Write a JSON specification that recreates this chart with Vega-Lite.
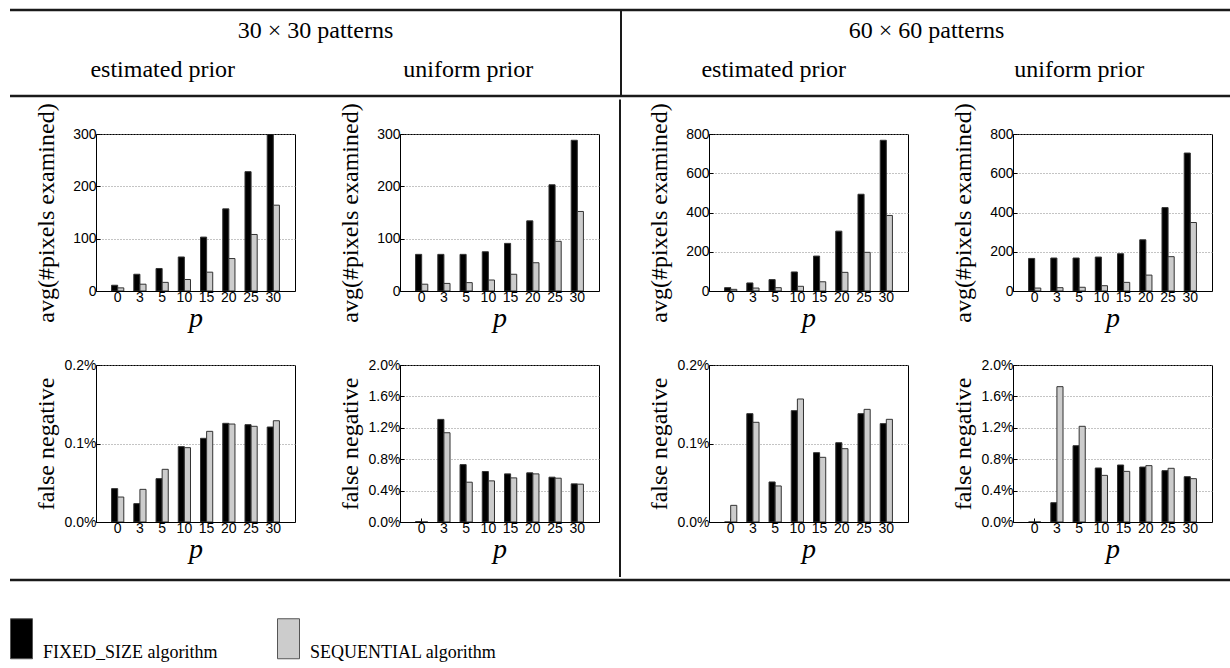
{
  "$schema": "https://vega.github.io/schema/vega-lite/v6.json",
  "padding": {"left": 8, "top": 8, "right": 0, "bottom": 0},
  "background": "white",
  "datasets": {
    "bars": [
      {"size":"30x30","prior":"estimated","metric":"pixels","p":0,"algo":"FIXED_SIZE algorithm","value":11},
      {"size":"30x30","prior":"estimated","metric":"pixels","p":3,"algo":"FIXED_SIZE algorithm","value":32},
      {"size":"30x30","prior":"estimated","metric":"pixels","p":5,"algo":"FIXED_SIZE algorithm","value":43},
      {"size":"30x30","prior":"estimated","metric":"pixels","p":10,"algo":"FIXED_SIZE algorithm","value":65},
      {"size":"30x30","prior":"estimated","metric":"pixels","p":15,"algo":"FIXED_SIZE algorithm","value":103},
      {"size":"30x30","prior":"estimated","metric":"pixels","p":20,"algo":"FIXED_SIZE algorithm","value":157},
      {"size":"30x30","prior":"estimated","metric":"pixels","p":25,"algo":"FIXED_SIZE algorithm","value":228},
      {"size":"30x30","prior":"estimated","metric":"pixels","p":30,"algo":"FIXED_SIZE algorithm","value":300},
      {"size":"30x30","prior":"estimated","metric":"pixels","p":0,"algo":"SEQUENTIAL algorithm","value":6},
      {"size":"30x30","prior":"estimated","metric":"pixels","p":3,"algo":"SEQUENTIAL algorithm","value":13},
      {"size":"30x30","prior":"estimated","metric":"pixels","p":5,"algo":"SEQUENTIAL algorithm","value":16.5},
      {"size":"30x30","prior":"estimated","metric":"pixels","p":10,"algo":"SEQUENTIAL algorithm","value":22},
      {"size":"30x30","prior":"estimated","metric":"pixels","p":15,"algo":"SEQUENTIAL algorithm","value":36},
      {"size":"30x30","prior":"estimated","metric":"pixels","p":20,"algo":"SEQUENTIAL algorithm","value":62},
      {"size":"30x30","prior":"estimated","metric":"pixels","p":25,"algo":"SEQUENTIAL algorithm","value":108},
      {"size":"30x30","prior":"estimated","metric":"pixels","p":30,"algo":"SEQUENTIAL algorithm","value":164},

      {"size":"30x30","prior":"uniform","metric":"pixels","p":0,"algo":"FIXED_SIZE algorithm","value":70},
      {"size":"30x30","prior":"uniform","metric":"pixels","p":3,"algo":"FIXED_SIZE algorithm","value":70},
      {"size":"30x30","prior":"uniform","metric":"pixels","p":5,"algo":"FIXED_SIZE algorithm","value":70},
      {"size":"30x30","prior":"uniform","metric":"pixels","p":10,"algo":"FIXED_SIZE algorithm","value":75},
      {"size":"30x30","prior":"uniform","metric":"pixels","p":15,"algo":"FIXED_SIZE algorithm","value":91},
      {"size":"30x30","prior":"uniform","metric":"pixels","p":20,"algo":"FIXED_SIZE algorithm","value":134},
      {"size":"30x30","prior":"uniform","metric":"pixels","p":25,"algo":"FIXED_SIZE algorithm","value":203},
      {"size":"30x30","prior":"uniform","metric":"pixels","p":30,"algo":"FIXED_SIZE algorithm","value":288},
      {"size":"30x30","prior":"uniform","metric":"pixels","p":0,"algo":"SEQUENTIAL algorithm","value":13},
      {"size":"30x30","prior":"uniform","metric":"pixels","p":3,"algo":"SEQUENTIAL algorithm","value":14.5},
      {"size":"30x30","prior":"uniform","metric":"pixels","p":5,"algo":"SEQUENTIAL algorithm","value":16},
      {"size":"30x30","prior":"uniform","metric":"pixels","p":10,"algo":"SEQUENTIAL algorithm","value":21},
      {"size":"30x30","prior":"uniform","metric":"pixels","p":15,"algo":"SEQUENTIAL algorithm","value":32},
      {"size":"30x30","prior":"uniform","metric":"pixels","p":20,"algo":"SEQUENTIAL algorithm","value":54},
      {"size":"30x30","prior":"uniform","metric":"pixels","p":25,"algo":"SEQUENTIAL algorithm","value":95},
      {"size":"30x30","prior":"uniform","metric":"pixels","p":30,"algo":"SEQUENTIAL algorithm","value":152},

      {"size":"60x60","prior":"estimated","metric":"pixels","p":0,"algo":"FIXED_SIZE algorithm","value":17},
      {"size":"60x60","prior":"estimated","metric":"pixels","p":3,"algo":"FIXED_SIZE algorithm","value":41},
      {"size":"60x60","prior":"estimated","metric":"pixels","p":5,"algo":"FIXED_SIZE algorithm","value":58},
      {"size":"60x60","prior":"estimated","metric":"pixels","p":10,"algo":"FIXED_SIZE algorithm","value":97},
      {"size":"60x60","prior":"estimated","metric":"pixels","p":15,"algo":"FIXED_SIZE algorithm","value":178},
      {"size":"60x60","prior":"estimated","metric":"pixels","p":20,"algo":"FIXED_SIZE algorithm","value":305},
      {"size":"60x60","prior":"estimated","metric":"pixels","p":25,"algo":"FIXED_SIZE algorithm","value":493},
      {"size":"60x60","prior":"estimated","metric":"pixels","p":30,"algo":"FIXED_SIZE algorithm","value":768},
      {"size":"60x60","prior":"estimated","metric":"pixels","p":0,"algo":"SEQUENTIAL algorithm","value":8.5},
      {"size":"60x60","prior":"estimated","metric":"pixels","p":3,"algo":"SEQUENTIAL algorithm","value":15},
      {"size":"60x60","prior":"estimated","metric":"pixels","p":5,"algo":"SEQUENTIAL algorithm","value":17},
      {"size":"60x60","prior":"estimated","metric":"pixels","p":10,"algo":"SEQUENTIAL algorithm","value":24},
      {"size":"60x60","prior":"estimated","metric":"pixels","p":15,"algo":"SEQUENTIAL algorithm","value":47},
      {"size":"60x60","prior":"estimated","metric":"pixels","p":20,"algo":"SEQUENTIAL algorithm","value":95},
      {"size":"60x60","prior":"estimated","metric":"pixels","p":25,"algo":"SEQUENTIAL algorithm","value":197},
      {"size":"60x60","prior":"estimated","metric":"pixels","p":30,"algo":"SEQUENTIAL algorithm","value":385},

      {"size":"60x60","prior":"uniform","metric":"pixels","p":0,"algo":"FIXED_SIZE algorithm","value":166},
      {"size":"60x60","prior":"uniform","metric":"pixels","p":3,"algo":"FIXED_SIZE algorithm","value":168},
      {"size":"60x60","prior":"uniform","metric":"pixels","p":5,"algo":"FIXED_SIZE algorithm","value":168},
      {"size":"60x60","prior":"uniform","metric":"pixels","p":10,"algo":"FIXED_SIZE algorithm","value":173},
      {"size":"60x60","prior":"uniform","metric":"pixels","p":15,"algo":"FIXED_SIZE algorithm","value":190},
      {"size":"60x60","prior":"uniform","metric":"pixels","p":20,"algo":"FIXED_SIZE algorithm","value":261},
      {"size":"60x60","prior":"uniform","metric":"pixels","p":25,"algo":"FIXED_SIZE algorithm","value":425},
      {"size":"60x60","prior":"uniform","metric":"pixels","p":30,"algo":"FIXED_SIZE algorithm","value":703},
      {"size":"60x60","prior":"uniform","metric":"pixels","p":0,"algo":"SEQUENTIAL algorithm","value":15},
      {"size":"60x60","prior":"uniform","metric":"pixels","p":3,"algo":"SEQUENTIAL algorithm","value":17},
      {"size":"60x60","prior":"uniform","metric":"pixels","p":5,"algo":"SEQUENTIAL algorithm","value":19},
      {"size":"60x60","prior":"uniform","metric":"pixels","p":10,"algo":"SEQUENTIAL algorithm","value":27},
      {"size":"60x60","prior":"uniform","metric":"pixels","p":15,"algo":"SEQUENTIAL algorithm","value":44},
      {"size":"60x60","prior":"uniform","metric":"pixels","p":20,"algo":"SEQUENTIAL algorithm","value":81},
      {"size":"60x60","prior":"uniform","metric":"pixels","p":25,"algo":"SEQUENTIAL algorithm","value":175},
      {"size":"60x60","prior":"uniform","metric":"pixels","p":30,"algo":"SEQUENTIAL algorithm","value":349},

      {"size":"30x30","prior":"estimated","metric":"fn","p":0,"algo":"FIXED_SIZE algorithm","value":0.000425},
      {"size":"30x30","prior":"estimated","metric":"fn","p":3,"algo":"FIXED_SIZE algorithm","value":0.000234},
      {"size":"30x30","prior":"estimated","metric":"fn","p":5,"algo":"FIXED_SIZE algorithm","value":0.000552},
      {"size":"30x30","prior":"estimated","metric":"fn","p":10,"algo":"FIXED_SIZE algorithm","value":0.00096},
      {"size":"30x30","prior":"estimated","metric":"fn","p":15,"algo":"FIXED_SIZE algorithm","value":0.001066},
      {"size":"30x30","prior":"estimated","metric":"fn","p":20,"algo":"FIXED_SIZE algorithm","value":0.001257},
      {"size":"30x30","prior":"estimated","metric":"fn","p":25,"algo":"FIXED_SIZE algorithm","value":0.00124},
      {"size":"30x30","prior":"estimated","metric":"fn","p":30,"algo":"FIXED_SIZE algorithm","value":0.00121},
      {"size":"30x30","prior":"estimated","metric":"fn","p":0,"algo":"SEQUENTIAL algorithm","value":0.000318},
      {"size":"30x30","prior":"estimated","metric":"fn","p":3,"algo":"SEQUENTIAL algorithm","value":0.000416},
      {"size":"30x30","prior":"estimated","metric":"fn","p":5,"algo":"SEQUENTIAL algorithm","value":0.000671},
      {"size":"30x30","prior":"estimated","metric":"fn","p":10,"algo":"SEQUENTIAL algorithm","value":0.000947},
      {"size":"30x30","prior":"estimated","metric":"fn","p":15,"algo":"SEQUENTIAL algorithm","value":0.001155},
      {"size":"30x30","prior":"estimated","metric":"fn","p":20,"algo":"SEQUENTIAL algorithm","value":0.001248},
      {"size":"30x30","prior":"estimated","metric":"fn","p":25,"algo":"SEQUENTIAL algorithm","value":0.001219},
      {"size":"30x30","prior":"estimated","metric":"fn","p":30,"algo":"SEQUENTIAL algorithm","value":0.00129},

      {"size":"30x30","prior":"uniform","metric":"fn","p":0,"algo":"FIXED_SIZE algorithm","value":0.00005},
      {"size":"30x30","prior":"uniform","metric":"fn","p":3,"algo":"FIXED_SIZE algorithm","value":0.01307},
      {"size":"30x30","prior":"uniform","metric":"fn","p":5,"algo":"FIXED_SIZE algorithm","value":0.00731},
      {"size":"30x30","prior":"uniform","metric":"fn","p":10,"algo":"FIXED_SIZE algorithm","value":0.00643},
      {"size":"30x30","prior":"uniform","metric":"fn","p":15,"algo":"FIXED_SIZE algorithm","value":0.00613},
      {"size":"30x30","prior":"uniform","metric":"fn","p":20,"algo":"FIXED_SIZE algorithm","value":0.00626},
      {"size":"30x30","prior":"uniform","metric":"fn","p":25,"algo":"FIXED_SIZE algorithm","value":0.00571},
      {"size":"30x30","prior":"uniform","metric":"fn","p":30,"algo":"FIXED_SIZE algorithm","value":0.00486},
      {"size":"30x30","prior":"uniform","metric":"fn","p":0,"algo":"SEQUENTIAL algorithm","value":0},
      {"size":"30x30","prior":"uniform","metric":"fn","p":3,"algo":"SEQUENTIAL algorithm","value":0.01137},
      {"size":"30x30","prior":"uniform","metric":"fn","p":5,"algo":"SEQUENTIAL algorithm","value":0.00507},
      {"size":"30x30","prior":"uniform","metric":"fn","p":10,"algo":"SEQUENTIAL algorithm","value":0.00524},
      {"size":"30x30","prior":"uniform","metric":"fn","p":15,"algo":"SEQUENTIAL algorithm","value":0.00562},
      {"size":"30x30","prior":"uniform","metric":"fn","p":20,"algo":"SEQUENTIAL algorithm","value":0.00613},
      {"size":"30x30","prior":"uniform","metric":"fn","p":25,"algo":"SEQUENTIAL algorithm","value":0.00558},
      {"size":"30x30","prior":"uniform","metric":"fn","p":30,"algo":"SEQUENTIAL algorithm","value":0.00482},

      {"size":"60x60","prior":"estimated","metric":"fn","p":0,"algo":"FIXED_SIZE algorithm","value":0},
      {"size":"60x60","prior":"estimated","metric":"fn","p":3,"algo":"FIXED_SIZE algorithm","value":0.00138},
      {"size":"60x60","prior":"estimated","metric":"fn","p":5,"algo":"FIXED_SIZE algorithm","value":0.00051},
      {"size":"60x60","prior":"estimated","metric":"fn","p":10,"algo":"FIXED_SIZE algorithm","value":0.001418},
      {"size":"60x60","prior":"estimated","metric":"fn","p":15,"algo":"FIXED_SIZE algorithm","value":0.000883},
      {"size":"60x60","prior":"estimated","metric":"fn","p":20,"algo":"FIXED_SIZE algorithm","value":0.00101},
      {"size":"60x60","prior":"estimated","metric":"fn","p":25,"algo":"FIXED_SIZE algorithm","value":0.00138},
      {"size":"60x60","prior":"estimated","metric":"fn","p":30,"algo":"FIXED_SIZE algorithm","value":0.001253},
      {"size":"60x60","prior":"estimated","metric":"fn","p":0,"algo":"SEQUENTIAL algorithm","value":0.000212},
      {"size":"60x60","prior":"estimated","metric":"fn","p":3,"algo":"SEQUENTIAL algorithm","value":0.00127},
      {"size":"60x60","prior":"estimated","metric":"fn","p":5,"algo":"SEQUENTIAL algorithm","value":0.000459},
      {"size":"60x60","prior":"estimated","metric":"fn","p":10,"algo":"SEQUENTIAL algorithm","value":0.001567},
      {"size":"60x60","prior":"estimated","metric":"fn","p":15,"algo":"SEQUENTIAL algorithm","value":0.000824},
      {"size":"60x60","prior":"estimated","metric":"fn","p":20,"algo":"SEQUENTIAL algorithm","value":0.000934},
      {"size":"60x60","prior":"estimated","metric":"fn","p":25,"algo":"SEQUENTIAL algorithm","value":0.001435},
      {"size":"60x60","prior":"estimated","metric":"fn","p":30,"algo":"SEQUENTIAL algorithm","value":0.001308},

      {"size":"60x60","prior":"uniform","metric":"fn","p":0,"algo":"FIXED_SIZE algorithm","value":0},
      {"size":"60x60","prior":"uniform","metric":"fn","p":3,"algo":"FIXED_SIZE algorithm","value":0.00246},
      {"size":"60x60","prior":"uniform","metric":"fn","p":5,"algo":"FIXED_SIZE algorithm","value":0.00972},
      {"size":"60x60","prior":"uniform","metric":"fn","p":10,"algo":"FIXED_SIZE algorithm","value":0.00688},
      {"size":"60x60","prior":"uniform","metric":"fn","p":15,"algo":"FIXED_SIZE algorithm","value":0.00726},
      {"size":"60x60","prior":"uniform","metric":"fn","p":20,"algo":"FIXED_SIZE algorithm","value":0.007},
      {"size":"60x60","prior":"uniform","metric":"fn","p":25,"algo":"FIXED_SIZE algorithm","value":0.00654},
      {"size":"60x60","prior":"uniform","metric":"fn","p":30,"algo":"FIXED_SIZE algorithm","value":0.00577},
      {"size":"60x60","prior":"uniform","metric":"fn","p":0,"algo":"SEQUENTIAL algorithm","value":0},
      {"size":"60x60","prior":"uniform","metric":"fn","p":3,"algo":"SEQUENTIAL algorithm","value":0.01724},
      {"size":"60x60","prior":"uniform","metric":"fn","p":5,"algo":"SEQUENTIAL algorithm","value":0.01219},
      {"size":"60x60","prior":"uniform","metric":"fn","p":10,"algo":"SEQUENTIAL algorithm","value":0.00594},
      {"size":"60x60","prior":"uniform","metric":"fn","p":15,"algo":"SEQUENTIAL algorithm","value":0.00645},
      {"size":"60x60","prior":"uniform","metric":"fn","p":20,"algo":"SEQUENTIAL algorithm","value":0.00718},
      {"size":"60x60","prior":"uniform","metric":"fn","p":25,"algo":"SEQUENTIAL algorithm","value":0.00684},
      {"size":"60x60","prior":"uniform","metric":"fn","p":30,"algo":"SEQUENTIAL algorithm","value":0.00552}
    ]
  },
  "vconcat": [
    {
      "width": 1222, "height": 86,
      "view": {"stroke": null},
      "layer": [
        {"data": {"values": [{}]}, "mark": {"type": "rule", "color": "#1a1a1a", "strokeWidth": 2.5},
         "encoding": {"y": {"datum": 0, "type": "quantitative", "scale": {"domain": [0, 1], "reverse": true}, "axis": null}}},
        {"data": {"values": [{}]}, "mark": {"type": "rule", "color": "#1a1a1a", "strokeWidth": 2.5},
         "encoding": {"y": {"datum": 1, "type": "quantitative"}}},
        {"data": {"values": [{}]}, "mark": {"type": "rule", "color": "#1a1a1a", "strokeWidth": 2, "strokeCap": "square"},
         "encoding": {"x": {"datum": 0.5, "type": "quantitative", "scale": {"domain": [0, 1]}, "axis": null}}},
        {"data": {"values": [{"size": "30 × 30 patterns"}, {"size": "60 × 60 patterns"}]},
         "mark": {"type": "text", "font": "Liberation Serif", "fontSize": 24, "color": "black", "baseline": "middle"},
         "encoding": {"x": {"field": "size", "type": "nominal", "sort": null, "scale": {"type": "point", "padding": 0.5}, "axis": null},
                      "y": {"datum": 0.244, "type": "quantitative"},
                      "text": {"field": "size"}}},
        {"data": {"values": [{"column": "c1", "prior": "estimated prior"}, {"column": "c2", "prior": "uniform prior"}, {"column": "c3", "prior": "estimated prior"}, {"column": "c4", "prior": "uniform prior"}]},
         "mark": {"type": "text", "font": "Liberation Serif", "fontSize": 24, "color": "black", "baseline": "middle"},
         "encoding": {"x": {"field": "column", "type": "nominal", "sort": null, "scale": {"type": "point", "padding": 0.5}, "axis": null},
                      "y": {"datum": 0.698, "type": "quantitative"},
                      "text": {"field": "prior"}}}
      ],
      "resolve": {"scale": {"x": "independent"}}
    },
    {
      "hconcat": [
        {"width": 5, "height": 1, "view": {"stroke": null}, "data": {"values": []}, "mark": "text", "encoding": {}},
        {
          "hconcat": [
            {
              "vconcat": [
                {
                  "width": 199, "height": 157,
                  "data": {"name": "bars"},
                  "transform": [{"filter": "datum.size === '30x30' && datum.prior === 'estimated' && datum.metric === 'pixels'"}],
                  "mark": {"type": "bar", "stroke": "#333", "strokeWidth": 1, "clip": true},
                  "encoding": {
                    "x": {"field": "p", "type": "ordinal", "scale": {"paddingInner": 0.45, "paddingOuter": 0.7}, "title": "p"},
                    "xOffset": {"field": "algo", "type": "nominal"},
                    "y": {"field": "value", "type": "quantitative", "scale": {"domain": [0, 300]}, "axis": {"values": [0, 100, 200, 300], "title": "avg(#pixels examined)", "titlePadding": 14}},
                    "color": {"field": "algo", "type": "nominal", "scale": {"domain": ["FIXED_SIZE algorithm", "SEQUENTIAL algorithm"], "range": ["#000000", "#cccccc"]},
                              "legend": {"labelBaseline": "alphabetic", "encode": {"labels": {"update": {"dy": {"value": 19}}}}}}
                  }
                },
                {
                  "width": 199, "height": 157,
                  "data": {"name": "bars"},
                  "transform": [{"filter": "datum.size === '30x30' && datum.prior === 'estimated' && datum.metric === 'fn'"}],
                  "mark": {"type": "bar", "stroke": "#333", "strokeWidth": 1, "clip": true},
                  "encoding": {
                    "x": {"field": "p", "type": "ordinal", "scale": {"paddingInner": 0.45, "paddingOuter": 0.7}, "title": "p"},
                    "xOffset": {"field": "algo", "type": "nominal"},
                    "y": {"field": "value", "type": "quantitative", "scale": {"domain": [0, 0.002]}, "axis": {"values": [0, 0.001, 0.002], "format": ".1%", "title": "false negative", "titlePadding": 6}},
                    "color": {"field": "algo", "type": "nominal", "scale": {"domain": ["FIXED_SIZE algorithm", "SEQUENTIAL algorithm"], "range": ["#000000", "#cccccc"]}}
                  }
                }
              ],
              "spacing": 24
            },
            {
              "vconcat": [
                {
                  "width": 199, "height": 157,
                  "data": {"name": "bars"},
                  "transform": [{"filter": "datum.size === '30x30' && datum.prior === 'uniform' && datum.metric === 'pixels'"}],
                  "mark": {"type": "bar", "stroke": "#333", "strokeWidth": 1, "clip": true},
                  "encoding": {
                    "x": {"field": "p", "type": "ordinal", "scale": {"paddingInner": 0.45, "paddingOuter": 0.7}, "title": "p"},
                    "xOffset": {"field": "algo", "type": "nominal"},
                    "y": {"field": "value", "type": "quantitative", "scale": {"domain": [0, 300]}, "axis": {"values": [0, 100, 200, 300], "title": "avg(#pixels examined)", "titlePadding": 14}},
                    "color": {"field": "algo", "type": "nominal", "scale": {"domain": ["FIXED_SIZE algorithm", "SEQUENTIAL algorithm"], "range": ["#000000", "#cccccc"]}}
                  }
                },
                {
                  "width": 199, "height": 157,
                  "data": {"name": "bars"},
                  "transform": [{"filter": "datum.size === '30x30' && datum.prior === 'uniform' && datum.metric === 'fn'"}],
                  "mark": {"type": "bar", "stroke": "#333", "strokeWidth": 1, "clip": true},
                  "encoding": {
                    "x": {"field": "p", "type": "ordinal", "scale": {"paddingInner": 0.45, "paddingOuter": 0.7}, "title": "p"},
                    "xOffset": {"field": "algo", "type": "nominal"},
                    "y": {"field": "value", "type": "quantitative", "scale": {"domain": [0, 0.02]}, "axis": {"values": [0, 0.004, 0.008, 0.012, 0.016, 0.02], "format": ".1%", "title": "false negative", "titlePadding": 6}},
                    "color": {"field": "algo", "type": "nominal", "scale": {"domain": ["FIXED_SIZE algorithm", "SEQUENTIAL algorithm"], "range": ["#000000", "#cccccc"]}}
                  }
                }
              ],
              "spacing": 24
            }
          ],
          "spacing": 41
        },
        {"width": 8, "height": 442, "view": {"stroke": null}, "data": {"values": [{}]},
         "mark": {"type": "rule", "color": "#1a1a1a", "strokeWidth": 2, "strokeCap": "square"},
         "encoding": {"x": {"datum": 0, "type": "quantitative", "scale": {"domain": [0, 1]}, "axis": null},
                      "y": {"datum": -0.076, "type": "quantitative", "scale": {"domain": [0, 1], "reverse": true}, "axis": null},
                      "y2": {"datum": 1}}},
        {
          "hconcat": [
            {
              "vconcat": [
                {
                  "width": 199, "height": 157,
                  "data": {"name": "bars"},
                  "transform": [{"filter": "datum.size === '60x60' && datum.prior === 'estimated' && datum.metric === 'pixels'"}],
                  "mark": {"type": "bar", "stroke": "#333", "strokeWidth": 1, "clip": true},
                  "encoding": {
                    "x": {"field": "p", "type": "ordinal", "scale": {"paddingInner": 0.45, "paddingOuter": 0.7}, "title": "p"},
                    "xOffset": {"field": "algo", "type": "nominal"},
                    "y": {"field": "value", "type": "quantitative", "scale": {"domain": [0, 800]}, "axis": {"values": [0, 200, 400, 600, 800], "title": "avg(#pixels examined)", "titlePadding": 14}},
                    "color": {"field": "algo", "type": "nominal", "scale": {"domain": ["FIXED_SIZE algorithm", "SEQUENTIAL algorithm"], "range": ["#000000", "#cccccc"]}}
                  }
                },
                {
                  "width": 199, "height": 157,
                  "data": {"name": "bars"},
                  "transform": [{"filter": "datum.size === '60x60' && datum.prior === 'estimated' && datum.metric === 'fn'"}],
                  "mark": {"type": "bar", "stroke": "#333", "strokeWidth": 1, "clip": true},
                  "encoding": {
                    "x": {"field": "p", "type": "ordinal", "scale": {"paddingInner": 0.45, "paddingOuter": 0.7}, "title": "p"},
                    "xOffset": {"field": "algo", "type": "nominal"},
                    "y": {"field": "value", "type": "quantitative", "scale": {"domain": [0, 0.002]}, "axis": {"values": [0, 0.001, 0.002], "format": ".1%", "title": "false negative", "titlePadding": 6}},
                    "color": {"field": "algo", "type": "nominal", "scale": {"domain": ["FIXED_SIZE algorithm", "SEQUENTIAL algorithm"], "range": ["#000000", "#cccccc"]}}
                  }
                }
              ],
              "spacing": 24
            },
            {
              "vconcat": [
                {
                  "width": 199, "height": 157,
                  "data": {"name": "bars"},
                  "transform": [{"filter": "datum.size === '60x60' && datum.prior === 'uniform' && datum.metric === 'pixels'"}],
                  "mark": {"type": "bar", "stroke": "#333", "strokeWidth": 1, "clip": true},
                  "encoding": {
                    "x": {"field": "p", "type": "ordinal", "scale": {"paddingInner": 0.45, "paddingOuter": 0.7}, "title": "p"},
                    "xOffset": {"field": "algo", "type": "nominal"},
                    "y": {"field": "value", "type": "quantitative", "scale": {"domain": [0, 800]}, "axis": {"values": [0, 200, 400, 600, 800], "title": "avg(#pixels examined)", "titlePadding": 14}},
                    "color": {"field": "algo", "type": "nominal", "scale": {"domain": ["FIXED_SIZE algorithm", "SEQUENTIAL algorithm"], "range": ["#000000", "#cccccc"]}}
                  }
                },
                {
                  "width": 199, "height": 157,
                  "data": {"name": "bars"},
                  "transform": [{"filter": "datum.size === '60x60' && datum.prior === 'uniform' && datum.metric === 'fn'"}],
                  "mark": {"type": "bar", "stroke": "#333", "strokeWidth": 1, "clip": true},
                  "encoding": {
                    "x": {"field": "p", "type": "ordinal", "scale": {"paddingInner": 0.45, "paddingOuter": 0.7}, "title": "p"},
                    "xOffset": {"field": "algo", "type": "nominal"},
                    "y": {"field": "value", "type": "quantitative", "scale": {"domain": [0, 0.02]}, "axis": {"values": [0, 0.004, 0.008, 0.012, 0.016, 0.02], "format": ".1%", "title": "false negative", "titlePadding": 6}},
                    "color": {"field": "algo", "type": "nominal", "scale": {"domain": ["FIXED_SIZE algorithm", "SEQUENTIAL algorithm"], "range": ["#000000", "#cccccc"]}}
                  }
                }
              ],
              "spacing": 24
            }
          ],
          "spacing": 41
        }
      ],
      "spacing": 18
    },
    {
      "width": 1222, "height": 2,
      "view": {"stroke": null},
      "data": {"values": [{}]},
      "mark": {"type": "rule", "color": "#1a1a1a", "strokeWidth": 2.5},
      "encoding": {"y": {"datum": 0, "type": "quantitative", "scale": {"domain": [0, 1], "reverse": true}, "axis": null}}
    }
  ],
  "spacing": 0,
  "config": {
    "view": {"stroke": "black", "strokeWidth": 1},
    "axis": {
      "labelFont": "Liberation Sans", "labelFontSize": 14, "labelColor": "black",
      "titleFont": "Liberation Serif", "titleFontSize": 24, "titleFontWeight": "normal", "titleColor": "black",
      "domainColor": "black", "tickColor": "black", "tickSize": -4, "labelPadding": 4
    },
    "axisX": {"grid": false, "labelAngle": 0, "titleFont": "Liberation Serif", "titleFontStyle": "italic", "titleFontSize": 28, "titlePadding": 0, "labelPadding": 3},
    "axisY": {"grid": true, "gridColor": "#888", "gridDash": [1, 2], "gridWidth": 1, "titleFont": "Liberation Serif", "titleFontSize": 24},
    "legend": {
      "orient": "bottom", "direction": "horizontal", "title": null, "padding": 0,
      "symbolType": "M-1,-1H0.1V1H-1Z", "symbolSize": 1600,
      "symbolStrokeColor": "#555", "symbolStrokeWidth": 1,
      "labelFont": "Liberation Serif", "labelFontSize": 18, "labelColor": "black",
      "labelOffset": -8, "columnPadding": 57, "offset": 36, "labelLimit": 400
    }
  }
}
